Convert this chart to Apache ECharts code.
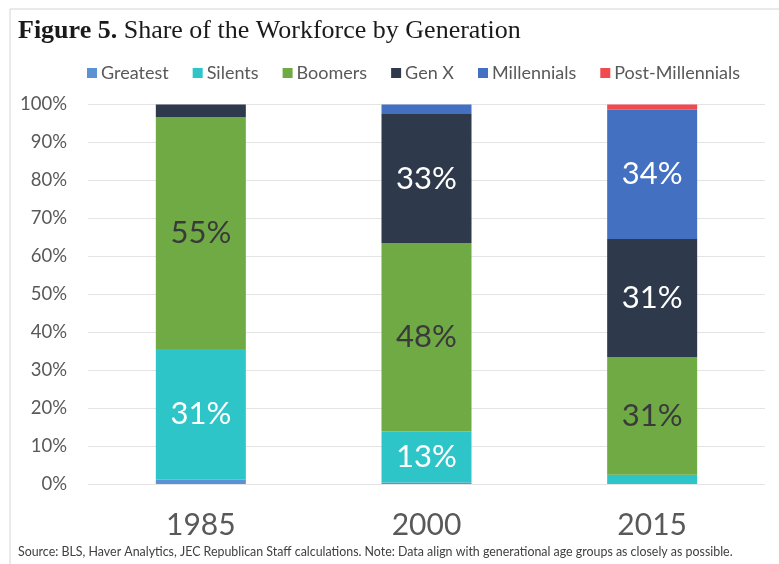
<!DOCTYPE html>
<html>
<head>
<meta charset="utf-8">
<script src="https://cdn.jsdelivr.net/npm/echarts@6/dist/echarts.min.js"></script>
<style>
  html, body { margin: 0; padding: 0; background: #ffffff; }
  #chart { width: 779px; height: 564px; }
</style>
</head>
<body>
<div id="chart"></div>
<script>
// Workforce share by generation; values as published (shares of each year's total)
const years = ['1985', '2000', '2015'];
const generations = ['Greatest', 'Silents', 'Boomers', 'Gen X', 'Millennials', 'Post-Millennials'];
const greatest = [1, 0.4, 0];
const silents = [31, 13, 2.4];
const boomers = [55, 48, 31];
const genX = [3, 33, 31];
const millennials = [0, 2.4, 34];
const postMillennials = [0, 0, 1.4];
const yTicks = [0, 10, 20, 30, 40, 50, 60, 70, 80, 90, 100];

const rawSeries = [greatest, silents, boomers, genX, millennials, postMillennials];
const colors = ['#5B92D4', '#2EC5C9', '#6FAA45', '#2E3A4B', '#4470C2', '#F04A4E'];
const labelColors = ['#ffffff', '#ffffff', '#3a3a3a', '#ffffff', '#ffffff', '#ffffff'];

// each column is stacked to 100%
const totals = years.map((_, i) => rawSeries.reduce((s, arr) => s + arr[i], 0));

const font = 'Lato, "Open Sans", sans-serif';
const grey = '#595959';

const series = generations.map((name, k) => ({
  name: name,
  type: 'bar',
  stack: 'share',
  barWidth: 90,
  itemStyle: { color: colors[k] },
  data: rawSeries[k].map((v, i) => ({
    value: v / totals[i] * 100,
    raw: v,
    label: { show: v >= 10 }
  })),
  label: {
    position: 'inside',
    fontFamily: font,
    fontSize: 31,
    color: labelColors[k],
    formatter: p => Math.round(p.data.raw) + '%'
  },
  emphasis: { disabled: true }
}));

const chart = echarts.init(document.getElementById('chart'));
chart.setOption({
  animation: false,
  color: colors,
  graphic: [
    {
      type: 'rect',
      shape: { x: 10, y: 9, width: 800, height: 600 },
      style: { fill: 'none', stroke: '#d4d4d4', lineWidth: 1 },
      silent: true
    },
    {
      type: 'text',
      left: 18,
      top: 18,
      style: {
        text: '{b|Figure 5.}{r| Share of the Workforce by Generation}',
        rich: {
          b: { fontFamily: '"Liberation Serif", serif', fontWeight: 'bold', fontSize: 26, fill: '#1a1a1a' },
          r: { fontFamily: '"Liberation Serif", serif', fontSize: 26, fill: '#1a1a1a' }
        }
      }
    },
    {
      type: 'text',
      left: 18,
      top: 546,
      style: {
        text: 'Source: BLS, Haver Analytics, JEC Republican Staff calculations. Note: Data align with generational age groups as closely as possible.',
        fontFamily: font,
        fontSize: 12.4,
        fill: '#404040'
      }
    }
  ],
  legend: {
    left: 82,
    top: 59,
    itemWidth: 10,
    itemHeight: 10,
    itemGap: 24,
    icon: 'rect',
    textStyle: { fontFamily: font, fontSize: 18, color: grey, padding: [0, 0, 0, -1] },
    data: generations
  },
  grid: { left: 88, right: 14, top: 104.5, bottom: 80, containLabel: false },
  xAxis: {
    type: 'category',
    data: years,
    axisLine: { show: false },
    axisTick: { show: false },
    axisLabel: { fontFamily: font, fontSize: 30, color: grey, margin: 26 }
  },
  yAxis: {
    type: 'value',
    min: yTicks[0],
    max: yTicks[yTicks.length - 1],
    interval: yTicks[1] - yTicks[0],
    axisLine: { show: false },
    axisTick: { show: false },
    splitLine: { lineStyle: { color: '#e4e4e4', width: 1 } },
    axisLabel: { fontFamily: font, fontSize: 18.5, color: grey, margin: 21, formatter: '{value}%' }
  },
  series: series
});
</script>
</body>
</html>
